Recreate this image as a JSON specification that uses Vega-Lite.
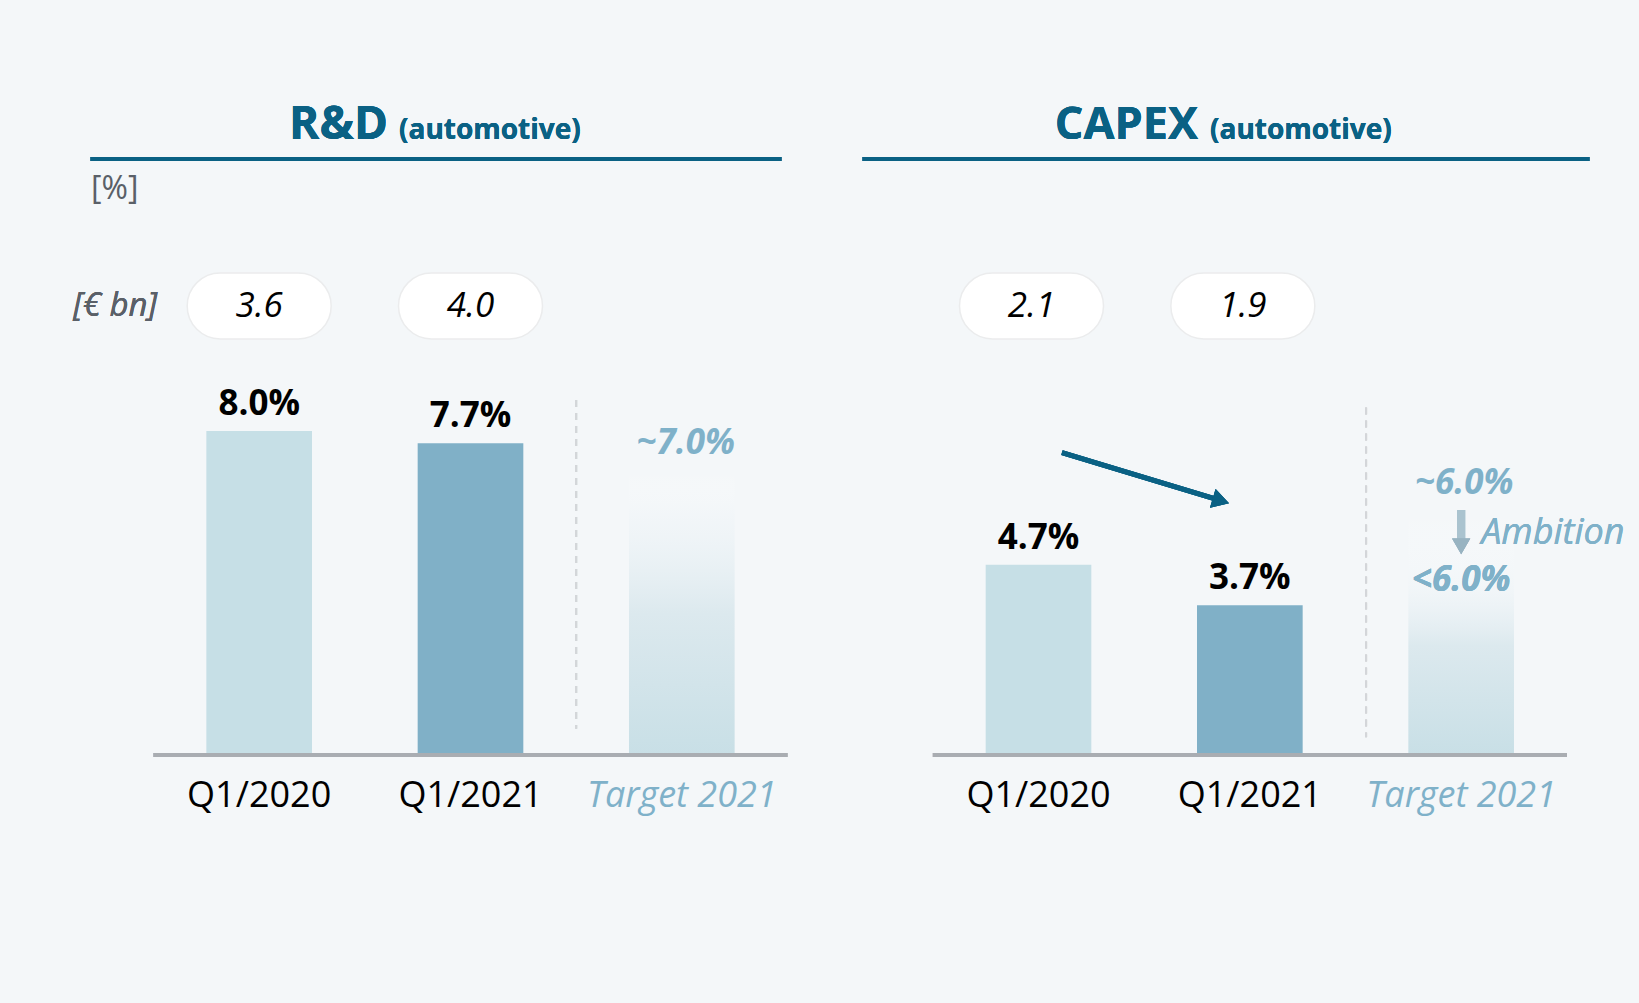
{
  "$schema": "https://vega.github.io/schema/vega-lite/v6.json",
  "autosize": {"type": "pad"},
  "padding": {"left": 72.5, "top": 102, "right": 13, "bottom": 192},
  "background": "#f4f7f9",
  "bounds": "flush",
  "spacing": 81,
  "config": {
    "font": "Open Sans",
    "view": {"stroke": null},
    "axisX": {
      "domain": false, "ticks": false, "grid": false, "title": null, "labelAngle": 0,
      "labelFontSize": 36, "labelPadding": 23, "labelLimit": 400,
      "labelColor": {"condition": {"test": "datum.value === 'Target 2021'", "value": "#7fb1c9"}, "value": "#000000"},
      "labelFontStyle": {"condition": {"test": "datum.value === 'Target 2021'", "value": "italic"}, "value": "normal"}
    }
  },
  "datasets": {
    "rd": [
      {"period": "Q1/2020", "pct": 8.0, "label": "8.0%", "bn": "3.6", "kind": "actual"},
      {"period": "Q1/2021", "pct": 7.7, "label": "7.7%", "bn": "4.0", "kind": "actual"},
      {"period": "Target 2021", "pct": 7.0, "label": "~7.0%", "bn": null, "kind": "target"}
    ],
    "capex": [
      {"period": "Q1/2020", "pct": 4.7, "label": "4.7%", "bn": "2.1", "kind": "actual"},
      {"period": "Q1/2021", "pct": 3.7, "label": "3.7%", "bn": "1.9", "kind": "actual"},
      {"period": "Target 2021", "pct": 6.0, "label": "~6.0%", "bn": null, "kind": "target"}
    ]
  },
  "hconcat": [
    {
      "width": 691,
      "height": 596,
      "data": {"name": "rd"},
      "layer": [
        {
          "mark": {"type": "rule", "color": "#0a6184", "strokeWidth": 4},
          "encoding": {"y": {"datum": 14.72, "type": "quantitative", "scale": {"domain": [0, 14.72], "nice": false}, "axis": {"title": "[%]", "labels": false, "ticks": false, "domain": false, "grid": false, "titleAngle": 0, "titleX": 0, "titleY": 29, "titleAlign": "left", "titleBaseline": "middle", "titleFontSize": 32, "titleFontWeight": "normal", "titleColor": "#5a6068"}}}
        },
        {
          "transform": [{"filter": "datum.kind === 'actual'"}],
          "mark": {"type": "bar"},
          "encoding": {
            "x": {"field": "period", "type": "nominal", "scale": {"type": "band", "domain": ["Q1/2020", "Q1/2021", "Target 2021"], "paddingInner": 0.5, "paddingOuter": 0.385, "align": 0.712, "round": false}},
            "y": {"field": "pct", "type": "quantitative"},
            "color": {"field": "period", "type": "nominal", "scale": {"domain": ["Q1/2020", "Q1/2021"], "range": ["#c6dfe6", "#80b0c7"]}, "legend": null}
          }
        },
        {
          "transform": [{"filter": "datum.kind === 'target'"}],
          "mark": {"type": "bar", "fill": {"gradient": "linear", "x1": 0, "y1": 1, "x2": 0, "y2": 0, "stops": [{"offset": 0, "color": "#c8dfe6"}, {"offset": 0.5, "color": "#dce9ee"}, {"offset": 0.85, "color": "rgba(240,245,248,0.5)"}, {"offset": 1, "color": "rgba(255,255,255,0)"}]}},
          "encoding": {
            "x": {"field": "period", "type": "nominal"},
            "y": {"field": "pct", "type": "quantitative"}
          }
        },
        {
          "mark": {"type": "rule", "color": "#a9adb2", "strokeWidth": 4},
          "encoding": {
            "x": {"datum": "Q1/2020", "type": "nominal", "bandPosition": -0.5},
            "x2": {"datum": "Target 2021", "bandPosition": 1.5},
            "y": {"datum": 0, "type": "quantitative"}
          }
        },
        {
          "mark": {"type": "rule", "color": "#d3d6d9", "strokeWidth": 2, "strokeDash": [7, 6]},
          "encoding": {
            "x": {"datum": "Target 2021", "type": "nominal", "bandPosition": -0.5},
            "y": {"datum": 8.77, "type": "quantitative"},
            "y2": {"datum": 0.65}
          }
        },
        {
          "transform": [{"filter": "datum.kind === 'actual'"}],
          "mark": {"type": "rect", "width": 144, "height": 66, "cornerRadius": 33, "fill": "#ffffff", "stroke": "#ebeced", "strokeWidth": 1.5},
          "encoding": {
            "x": {"field": "period", "type": "nominal"},
            "y": {"datum": 11.09, "type": "quantitative"}
          }
        },
        {
          "transform": [{"filter": "datum.kind === 'actual'"}],
          "mark": {"type": "text", "fontSize": 35, "fontStyle": "italic", "color": "#000000", "baseline": "middle"},
          "encoding": {
            "x": {"field": "period", "type": "nominal"},
            "y": {"datum": 11.09, "type": "quantitative"},
            "text": {"field": "bn"}
          }
        },
        {
          "transform": [{"filter": "datum.kind === 'actual'"}],
          "mark": {"type": "text", "fontSize": 35, "fontWeight": "bold", "color": "#000000", "baseline": "alphabetic", "dy": -16},
          "encoding": {
            "x": {"field": "period", "type": "nominal"},
            "y": {"field": "pct", "type": "quantitative"},
            "text": {"field": "label"}
          }
        },
        {
          "transform": [{"filter": "datum.kind === 'target'"}],
          "mark": {"type": "text", "fontSize": 35, "fontWeight": "bold", "fontStyle": "italic", "color": "#7fb1c9", "baseline": "alphabetic", "dy": -18, "dx": 4},
          "encoding": {
            "x": {"field": "period", "type": "nominal"},
            "y": {"field": "pct", "type": "quantitative"},
            "text": {"field": "label"}
          }
        },
        {
          "mark": {"type": "text", "fontSize": 33, "fontStyle": "italic", "color": "#5a6068", "baseline": "middle", "align": "right", "dx": -102},
          "encoding": {
            "x": {"datum": "Q1/2020", "type": "nominal"},
            "y": {"datum": 11.09, "type": "quantitative"},
            "text": {"value": "[€ bn]"}
          }
        },
        {
          "mark": {"type": "text", "fontSize": 46, "fontWeight": "bold", "color": "#0a6184", "baseline": "alphabetic", "align": "right", "dx": -48},
          "encoding": {
            "y": {"datum": 15.21, "type": "quantitative"},
            "text": {"value": "R&D"}
          }
        },
        {
          "mark": {"type": "text", "fontSize": 28, "fontWeight": "bold", "color": "#0a6184", "baseline": "alphabetic", "align": "left", "dx": -37},
          "encoding": {
            "y": {"datum": 15.21, "type": "quantitative"},
            "text": {"value": "(automotive)"}
          }
        }
      ]
    },
    {
      "width": 727,
      "height": 596,
      "data": {"name": "capex"},
      "layer": [
        {
          "mark": {"type": "rule", "color": "#0a6184", "strokeWidth": 4},
          "encoding": {"y": {"datum": 14.72, "type": "quantitative", "scale": {"domain": [0, 14.72], "nice": false}, "axis": null}}
        },
        {
          "transform": [{"filter": "datum.kind === 'actual'"}],
          "mark": {"type": "bar"},
          "encoding": {
            "x": {"field": "period", "type": "nominal", "scale": {"type": "band", "domain": ["Q1/2020", "Q1/2021", "Target 2021"], "paddingInner": 0.5, "paddingOuter": 0.47, "align": 0.62, "round": false}},
            "y": {"field": "pct", "type": "quantitative"},
            "color": {"field": "period", "type": "nominal", "scale": {"domain": ["Q1/2020", "Q1/2021"], "range": ["#c6dfe6", "#80b0c7"]}, "legend": null}
          }
        },
        {
          "transform": [{"filter": "datum.kind === 'target'"}],
          "mark": {"type": "bar", "fill": {"gradient": "linear", "x1": 0, "y1": 1, "x2": 0, "y2": 0, "stops": [{"offset": 0, "color": "#c8dfe6"}, {"offset": 0.45, "color": "#dce9ee"}, {"offset": 0.7, "color": "rgba(240,245,248,0.5)"}, {"offset": 1, "color": "rgba(255,255,255,0)"}]}},
          "encoding": {
            "x": {"field": "period", "type": "nominal"},
            "y": {"field": "pct", "type": "quantitative"}
          }
        },
        {
          "mark": {"type": "rule", "color": "#a9adb2", "strokeWidth": 4},
          "encoding": {
            "x": {"datum": "Q1/2020", "type": "nominal", "bandPosition": -0.5},
            "x2": {"datum": "Target 2021", "bandPosition": 1.5},
            "y": {"datum": 0, "type": "quantitative"}
          }
        },
        {
          "mark": {"type": "rule", "color": "#d3d6d9", "strokeWidth": 2, "strokeDash": [7, 6]},
          "encoding": {
            "x": {"datum": "Target 2021", "type": "nominal", "bandPosition": -0.4},
            "y": {"datum": 8.58, "type": "quantitative"},
            "y2": {"datum": 0.44}
          }
        },
        {
          "transform": [{"filter": "datum.kind === 'actual'"}],
          "mark": {"type": "rect", "width": 144, "height": 66, "cornerRadius": 33, "fill": "#ffffff", "stroke": "#ebeced", "strokeWidth": 1.5, "xOffset": -7},
          "encoding": {
            "x": {"field": "period", "type": "nominal"},
            "y": {"datum": 11.09, "type": "quantitative"}
          }
        },
        {
          "transform": [{"filter": "datum.kind === 'actual'"}],
          "mark": {"type": "text", "fontSize": 35, "fontStyle": "italic", "color": "#000000", "baseline": "middle", "dx": -7},
          "encoding": {
            "x": {"field": "period", "type": "nominal"},
            "y": {"datum": 11.09, "type": "quantitative"},
            "text": {"field": "bn"}
          }
        },
        {
          "transform": [{"filter": "datum.kind === 'actual'"}],
          "mark": {"type": "text", "fontSize": 35, "fontWeight": "bold", "color": "#000000", "baseline": "alphabetic", "dy": -16},
          "encoding": {
            "x": {"field": "period", "type": "nominal"},
            "y": {"field": "pct", "type": "quantitative"},
            "text": {"field": "label"}
          }
        },
        {
          "transform": [{"filter": "datum.kind === 'target'"}],
          "mark": {"type": "text", "fontSize": 35, "fontWeight": "bold", "fontStyle": "italic", "color": "#7fb1c9", "baseline": "alphabetic", "dy": -18, "dx": 3},
          "encoding": {
            "x": {"field": "period", "type": "nominal"},
            "y": {"field": "pct", "type": "quantitative"},
            "text": {"field": "label"}
          }
        },
        {
          "mark": {"type": "text", "fontSize": 35, "fontWeight": "bold", "fontStyle": "italic", "color": "#7fb1c9", "baseline": "middle"},
          "encoding": {
            "x": {"datum": "Target 2021", "type": "nominal"},
            "y": {"datum": 4.32, "type": "quantitative"},
            "text": {"value": "<6.0%"}
          }
        },
        {
          "mark": {"type": "rule", "color": "#aac3cf", "strokeWidth": 8},
          "encoding": {
            "x": {"datum": "Target 2021", "type": "nominal"},
            "y": {"datum": 6.05, "type": "quantitative"},
            "y2": {"datum": 5.25}
          }
        },
        {
          "mark": {"type": "point", "shape": "triangle-down", "filled": true, "size": 330, "color": "#98b3c1", "opacity": 1},
          "encoding": {
            "x": {"datum": "Target 2021", "type": "nominal"},
            "y": {"datum": 5.15, "type": "quantitative"}
          }
        },
        {
          "mark": {"type": "text", "fontSize": 36, "fontStyle": "italic", "color": "#7fb1c9", "baseline": "middle", "align": "left", "dx": 20},
          "encoding": {
            "x": {"datum": "Target 2021", "type": "nominal"},
            "y": {"datum": 5.48, "type": "quantitative"},
            "text": {"value": "Ambition"}
          }
        },
        {
          "mark": {"type": "rule", "color": "#0a6184", "strokeWidth": 5},
          "encoding": {
            "x": {"datum": "Q1/2020", "type": "nominal", "bandPosition": 0.722},
            "x2": {"datum": "Q1/2021", "bandPosition": 0.226},
            "y": {"datum": 7.47, "type": "quantitative"},
            "y2": {"datum": 6.28}
          }
        },
        {
          "mark": {"type": "point", "shape": "triangle-right", "filled": true, "size": 380, "color": "#0a6184", "opacity": 1, "angle": 16.7},
          "encoding": {
            "x": {"datum": "Q1/2021", "type": "nominal", "bandPosition": 0.226},
            "y": {"datum": 6.28, "type": "quantitative"}
          }
        },
        {
          "mark": {"type": "text", "fontSize": 45, "fontWeight": "bold", "color": "#0a6184", "baseline": "alphabetic", "align": "right", "dx": -28},
          "encoding": {
            "y": {"datum": 15.21, "type": "quantitative"},
            "text": {"value": "CAPEX"}
          }
        },
        {
          "mark": {"type": "text", "fontSize": 28, "fontWeight": "bold", "color": "#0a6184", "baseline": "alphabetic", "align": "left", "dx": -16},
          "encoding": {
            "y": {"datum": 15.21, "type": "quantitative"},
            "text": {"value": "(automotive)"}
          }
        }
      ]
    }
  ]
}
